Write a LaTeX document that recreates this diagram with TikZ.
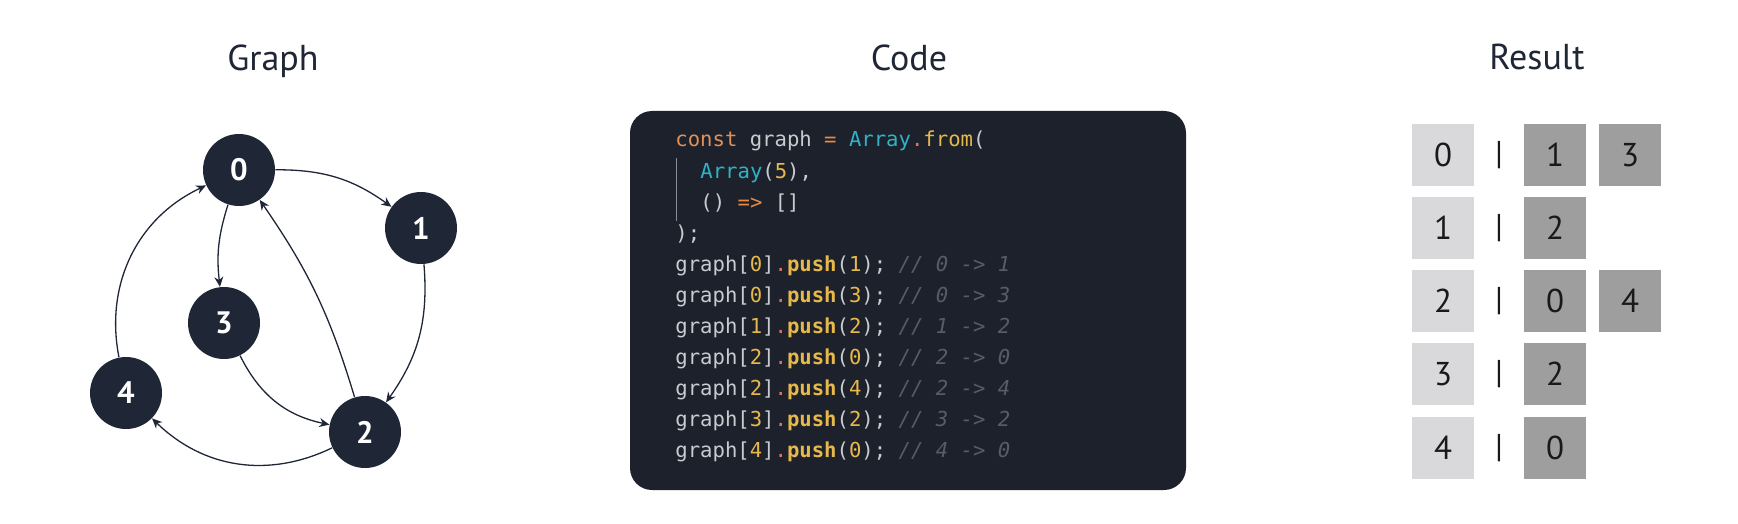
\documentclass[tikz,border=0pt]{standalone}
\usepackage{fontspec}
\setmainfont{PT Sans}
\newfontfamily\codefont{DejaVu Sans Mono}
\usepackage{tikz}
\usepackage{xcolor}
\usetikzlibrary{positioning,shapes,arrows.meta}

\definecolor{ink}{HTML}{1F2636}
\definecolor{codebg}{HTML}{1D212B}
\definecolor{codetxt}{HTML}{C8CBD0}
\definecolor{kwcol}{HTML}{E0915A}
\definecolor{opcol}{HTML}{E98A45}
\definecolor{cycol}{HTML}{2DB4C6}
\definecolor{ylcol}{HTML}{E7B94A}
\definecolor{dtcol}{HTML}{E2725B}
\definecolor{cmcol}{HTML}{565D69}
\definecolor{keybox}{HTML}{D9D9DB}
\definecolor{valbox}{HTML}{9E9E9E}

\newcommand\ckw[1]{\textcolor{kwcol}{#1}}
\newcommand\cop[1]{\textcolor{opcol}{#1}}
\newcommand\ccy[1]{\textcolor{cycol}{#1}}
\newcommand\cyl[1]{\textcolor{ylcol}{#1}}
\newcommand\cdt[1]{\textcolor{dtcol}{#1}}
\newcommand\ccm[1]{\textcolor{cmcol}{\itshape #1}}

\tikzset{
  title/.style={anchor=base, text=ink, font=\fontsize{18}{20}\selectfont},
  vertex/.style={shape=circle, fill=ink, minimum size=36pt, inner sep=0pt,
    text=white, font=\fontsize{15.5}{17}\selectfont\bfseries},
  edge/.style={draw=ink, line width=0.65pt, -{Stealth[length=5pt,width=4.5pt]}},
  codebox/.style={fill=codebg, rounded corners=11pt, minimum width=278pt,
    minimum height=189.5pt, inner sep=0pt},
  codeline/.style={anchor=mid west, inner sep=0pt, text=codetxt,
    font=\codefont\fontsize{10.3}{12}\selectfont},
  keycell/.style={fill=keybox, minimum size=31pt, inner sep=0pt,
    text=black!90, font=\fontsize{16.5}{18}\selectfont},
  valcell/.style={keycell, fill=valbox},
  sep/.style={inner sep=0pt, text=black!90, font=\fontsize{16.5}{18}\selectfont}
}

\begin{document}
\begin{tikzpicture}[x=0.5pt,y=-0.5pt]
\useasboundingbox (0,0) rectangle (1738,524);

% titles
\draw node (tgraph) at (273,71) [title]{Graph};
\draw node (tcode) at (909,71) [title]{Code};
\draw node (tres) at (1537,70) [title]{Result};

% graph
\draw node (n0) at (239,170) [vertex]{0};
\draw node (n1) at (421,228) [vertex]{1};
\draw node (n2) at (365,432) [vertex]{2};
\draw node (n3) at (224,323) [vertex]{3};
\draw node (n4) at (126,393) [vertex]{4};
\draw[edge] (n0) to[bend left=18] (n1);
\draw[edge] (n0) to[bend right=12] (n3);
\draw[edge] (n1) to[bend left=20] (n2);
\draw[edge] (n2) to[bend right=9] (n0);
\draw[edge] (n3) to[bend right=26] (n2);
\draw[edge] (n2) to[bend left=35] (n4);
\draw[edge] (n4) to[bend left=38] (n0);

% code
\draw node (box) at (908,300.5) [codebox]{};
\draw[cmcol!70, line width=0.5pt] (676,158) -- (676,221);
\draw node (l1) at (675,142) [codeline]{\ckw{const} graph \cop{=} \ccy{Array}\cdt{.}\cyl{from}(};
\draw node (l2) at (700,173) [codeline]{\ccy{Array}(\cyl{5}),};
\draw node (l3) at (700,204) [codeline]{() \cop{=>} []};
\draw node (l4) at (675,235) [codeline]{);};
\foreach \a/\b [count=\k from 5] in {0/1,0/3,1/2,2/0,2/4,3/2,4/0}
  \draw node (l\k) at (675,{142+31*(\k-1)}) [codeline]{graph[\cyl{\a}]\cdt{.}\cyl{\bfseries push}(\cyl{\b}); \ccm{// \a{} -> \b}};

% result
\foreach \r/\y in {0/155,1/228,2/301,3/374,4/448} {
  \draw node (k\r) at (1443,\y) [keycell]{\r};
  \draw node (s\r) at (1499,\y) [sep]{|};
}
\draw node (v01) at (1555,155) [valcell]{1};
\draw node (v03) at (1630,155) [valcell]{3};
\draw node (v12) at (1555,228) [valcell]{2};
\draw node (v20) at (1555,301) [valcell]{0};
\draw node (v24) at (1630,301) [valcell]{4};
\draw node (v32) at (1555,374) [valcell]{2};
\draw node (v40) at (1555,448) [valcell]{0};
\end{tikzpicture}
\end{document}
